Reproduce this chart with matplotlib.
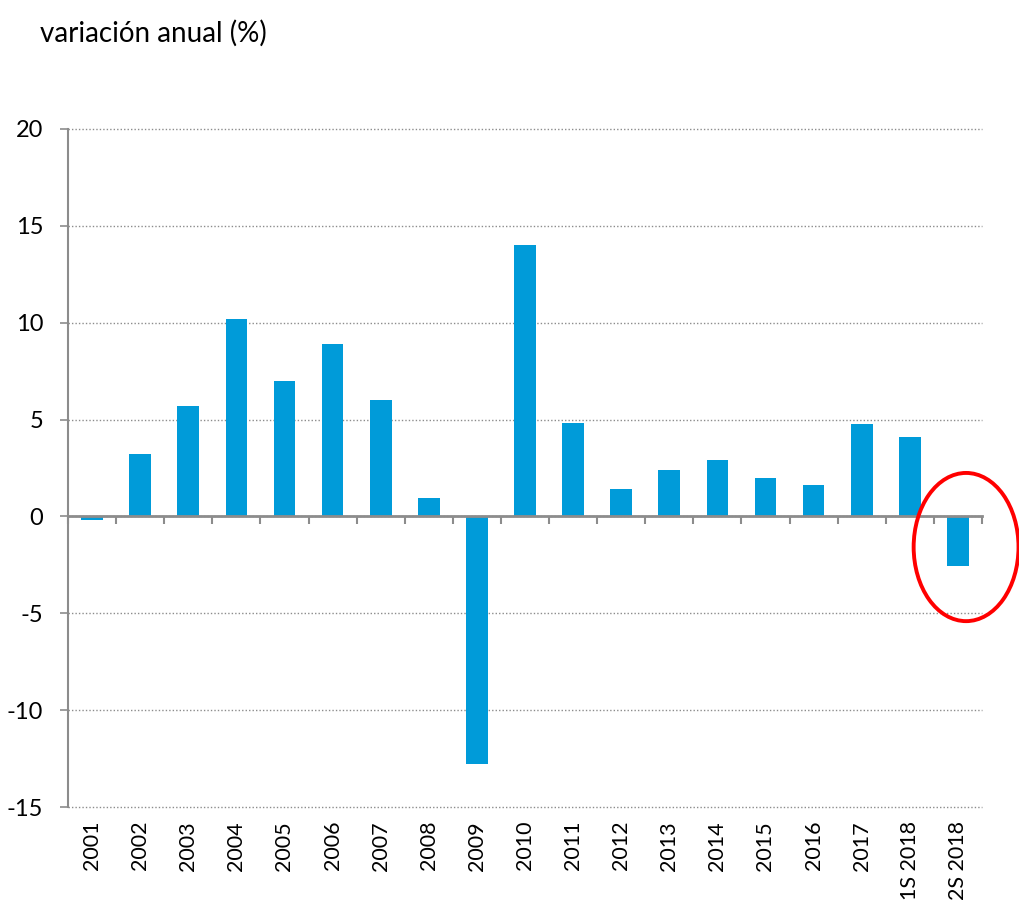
import numpy as np
import matplotlib.pyplot as plt
from matplotlib.patches import Ellipse

plt.rcParams['font.family'] = ['Lato', 'DejaVu Sans']
plt.rcParams['axes.unicode_minus'] = False

labels = ["2001", "2002", "2003", "2004", "2005", "2006", "2007", "2008", "2009", "2010",
          "2011", "2012", "2013", "2014", "2015", "2016", "2017", "1S 2018", "2S 2018"]
values = [-0.2, 3.2, 5.7, 10.2, 7.0, 8.9, 6.0, 0.95, -12.8, 14.0,
          4.8, 1.4, 2.4, 2.9, 2.0, 1.6, 4.75, 4.1, -2.55]

x = np.arange(len(labels))
axis_grey = "#8c8c8c"

fig = plt.figure(figsize=(10.2, 9), dpi=100)
ax = fig.add_axes([0.0667, 0.1033, 0.896, 0.7534])

ax.bar(x, values, width=0.45, color="#009bd9", zorder=3)

ax.set_xlim(-0.5, len(labels) - 0.5)
ax.set_ylim(-15, 20)
ax.set_yticks(np.arange(-15, 21, 5))
ax.yaxis.grid(True, linestyle=(0, (1, 1.5)), color="#8c8c8c", linewidth=1.0)
for gl in ax.get_ygridlines():
    gl.set_clip_on(False)
ax.set_axisbelow(True)

for s in ["top", "right"]:
    ax.spines[s].set_visible(False)
ax.spines["left"].set_color(axis_grey)
ax.spines["left"].set_linewidth(1.5)
ax.spines["bottom"].set_position(("data", 0))
ax.spines["bottom"].set_color(axis_grey)
ax.spines["bottom"].set_linewidth(2)
ax.spines["bottom"].set_zorder(4)

ax.tick_params(axis="y", direction="out", length=6, width=1.2, color=axis_grey,
               labelsize=17, pad=12)
ax.set_xticks(x)
ax.set_xticks(np.arange(-0.5, len(labels)), minor=True)
ax.tick_params(axis="x", which="major", length=0, labelbottom=False)
ax.tick_params(axis="x", which="minor", direction="out", length=6, width=1.5, color=axis_grey)

sec = ax.secondary_xaxis("bottom")
sec.set_xticks(x, labels, rotation=90)
sec.tick_params(length=0, labelsize=15.5, pad=10)
sec.spines["bottom"].set_visible(False)

ax.add_patch(Ellipse((len(labels) - 1 + 0.17, -1.58), 2.18, 7.65, fill=False,
                     edgecolor="#ff0000", linewidth=2.8, zorder=5, clip_on=False))

fig.text(0.039, 0.978, "variación anual (%)", fontsize=20, ha="left", va="top")

fig.savefig("out.png", dpi=100)
